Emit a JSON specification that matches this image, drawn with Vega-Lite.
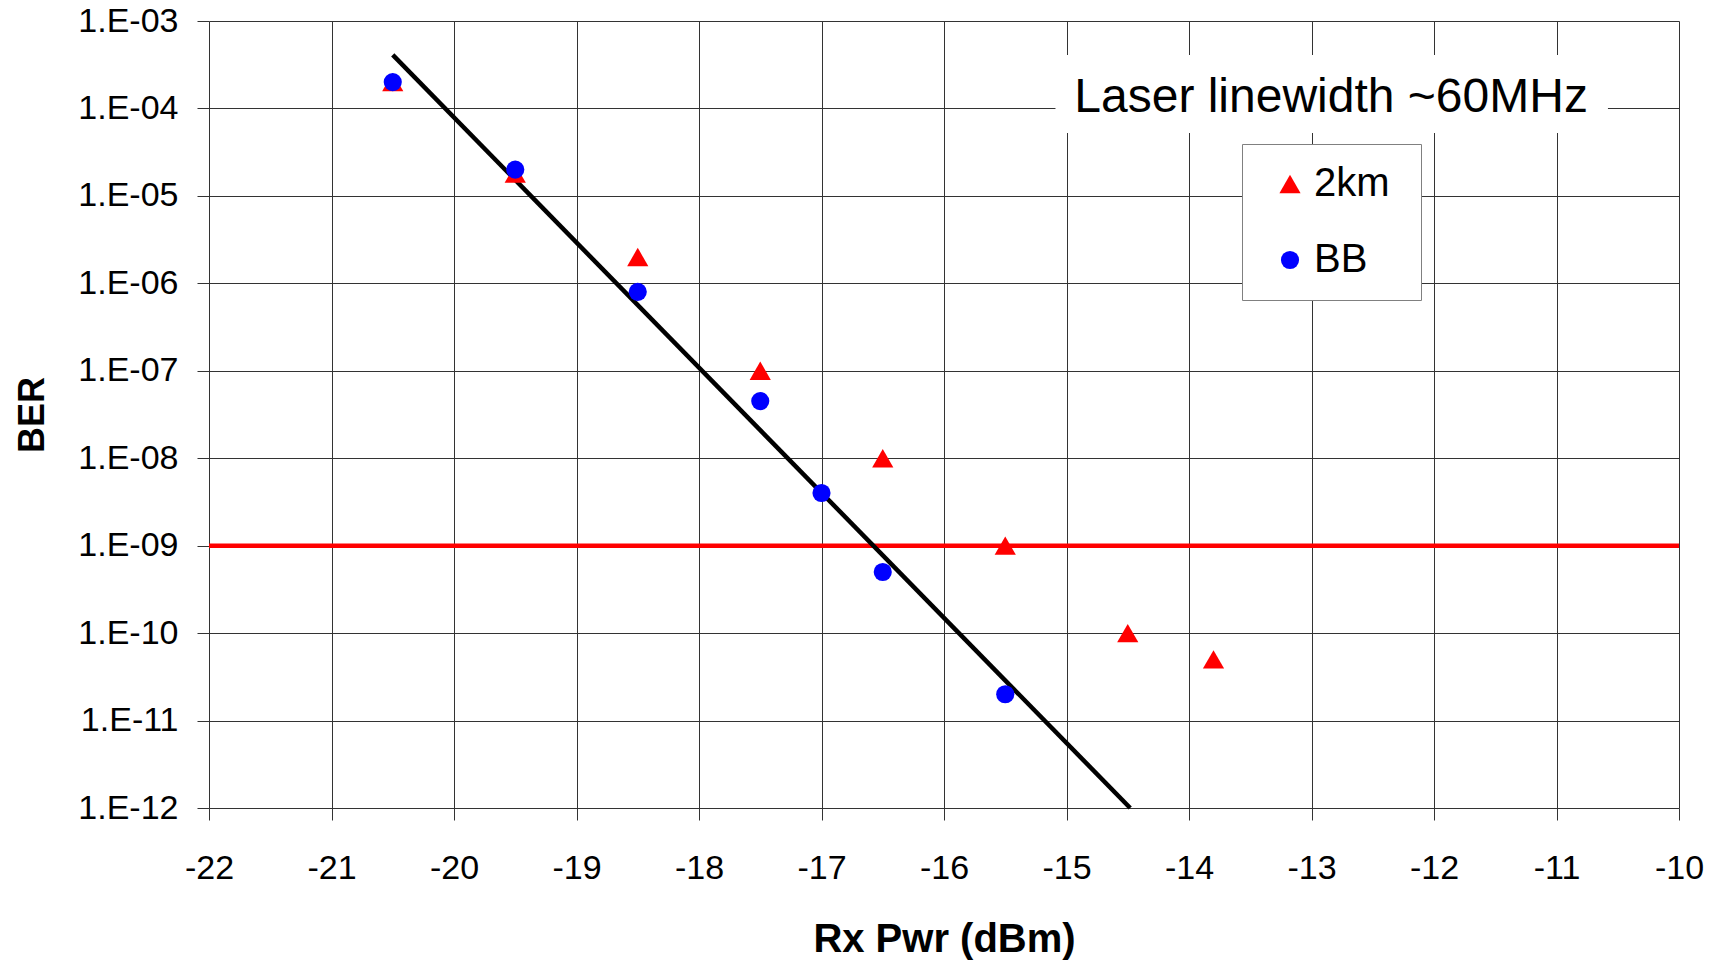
{
  "$schema": "https://vega.github.io/schema/vega-lite/v6.json",
  "width": 1470,
  "height": 787,
  "autosize": "none",
  "padding": {"left": 209, "top": 21, "right": 37, "bottom": 153},
  "background": "white",
  "config": {
    "font": "Liberation Sans",
    "view": {"stroke": null},
    "axis": {
      "grid": true,
      "gridColor": "#333333",
      "gridWidth": 1,
      "gridOpacity": 1,
      "domain": false,
      "ticks": true,
      "tickSize": 12,
      "tickColor": "#333333",
      "tickWidth": 1,
      "labelFlush": false,
      "labelOverlap": false,
      "labelFont": "Liberation Sans",
      "labelFontSize": 34,
      "labelColor": "#000000",
      "titleFont": "Liberation Sans",
      "titleFontWeight": "bold",
      "titleColor": "#000000"
    }
  },
  "datasets": {
    "points": [
      {"pwr": -20.5, "ber": 2e-4, "series": "2km"},
      {"pwr": -19.5, "ber": 1.8e-5, "series": "2km"},
      {"pwr": -18.5, "ber": 2e-6, "series": "2km"},
      {"pwr": -17.5, "ber": 1e-7, "series": "2km"},
      {"pwr": -16.5, "ber": 1e-8, "series": "2km"},
      {"pwr": -15.5, "ber": 1e-9, "series": "2km"},
      {"pwr": -14.5, "ber": 1e-10, "series": "2km"},
      {"pwr": -13.8, "ber": 5e-11, "series": "2km"},
      {"pwr": -20.5, "ber": 2e-4, "series": "BB"},
      {"pwr": -19.5, "ber": 2e-5, "series": "BB"},
      {"pwr": -18.5, "ber": 8e-7, "series": "BB"},
      {"pwr": -17.5, "ber": 4.5e-8, "series": "BB"},
      {"pwr": -17.0, "ber": 4e-9, "series": "BB"},
      {"pwr": -16.5, "ber": 5e-10, "series": "BB"},
      {"pwr": -15.5, "ber": 2e-11, "series": "BB"}
    ],
    "trend": [
      {"pwr": -20.5, "ber": 4.1e-4},
      {"pwr": -14.48, "ber": 1e-12}
    ],
    "note": [
      {"x1": -15.09, "x2": -10.58, "y1": 4.08e-4, "y2": 5.25e-5, "xc": -12.84, "yc": 1.33e-4, "label": "Laser linewidth ~60MHz"}
    ]
  },
  "layer": [
    {
      "data": {"name": "note"},
      "mark": {"type": "rect", "fill": "white"},
      "encoding": {
        "x": {"field": "x1", "type": "quantitative", "scale": {"domain": [-22, -10], "nice": false}, "axis": {"values": [-22,-21,-20,-19,-18,-17,-16,-15,-14,-13,-12,-11,-10], "labelExpr": "datum.value + ''", "title": "Rx Pwr (dBm)", "titleFontSize": 40, "labelPadding": 31, "titlePadding": 34}},
        "x2": {"field": "x2"},
        "y": {"field": "y1", "type": "quantitative", "scale": {"type": "log", "domain": [1e-12, 1e-3], "nice": false}, "axis": {"values": [1e-12,1e-11,1e-10,1e-9,1e-8,1e-7,1e-6,1e-5,1e-4,1e-3], "labelExpr": "'1.E-' + (abs(round(log(datum.value)/LN10)) < 10 ? '0' : '') + abs(round(log(datum.value)/LN10))", "title": "BER", "titleFontSize": 36, "labelPadding": 19, "titlePadding": 26}},
        "y2": {"field": "y2"}
      }
    },
    {
      "data": {"name": "note"},
      "mark": {"type": "text", "fontSize": 48, "font": "Liberation Sans", "color": "black", "align": "center", "baseline": "middle"},
      "encoding": {
        "x": {"field": "xc", "type": "quantitative"},
        "y": {"field": "yc", "type": "quantitative"},
        "text": {"field": "label"}
      }
    },
    {
      "data": {"values": [{}]},
      "mark": {"type": "rule", "color": "#ff0000", "strokeWidth": 4.5},
      "encoding": {"y": {"datum": 1e-9}}
    },
    {
      "data": {"name": "trend"},
      "mark": {"type": "line", "color": "black", "strokeWidth": 4.5},
      "encoding": {
        "x": {"field": "pwr", "type": "quantitative"},
        "y": {"field": "ber", "type": "quantitative"}
      }
    },
    {
      "data": {"name": "points"},
      "mark": {"type": "point", "filled": true, "opacity": 1, "strokeWidth": 0},
      "encoding": {
        "x": {"field": "pwr", "type": "quantitative"},
        "y": {"field": "ber", "type": "quantitative"},
        "shape": {"field": "series", "type": "nominal", "scale": {"domain": ["2km", "BB"], "range": ["triangle-up", "circle"]},
          "legend": {"title": null, "orient": "none", "legendX": 1033, "legendY": 123, "strokeColor": "#808080", "fillColor": "white", "padding": 20, "rowPadding": 36, "symbolOffset": 8, "labelOffset": 4, "labelFontSize": 40, "labelFont": "Liberation Sans", "labelColor": "black", "labelExpr": "datum.label + '\u00a0\u200b'", "symbolOpacity": 1, "symbolStrokeWidth": 0}},
        "color": {"field": "series", "type": "nominal", "scale": {"domain": ["2km", "BB"], "range": ["#ff0000", "#0000ff"]}, "legend": {"title": null}},
        "size": {"field": "series", "type": "nominal", "scale": {"domain": ["2km", "BB"], "range": [450, 330]}, "legend": {"title": null}}
      }
    }
  ]
}
